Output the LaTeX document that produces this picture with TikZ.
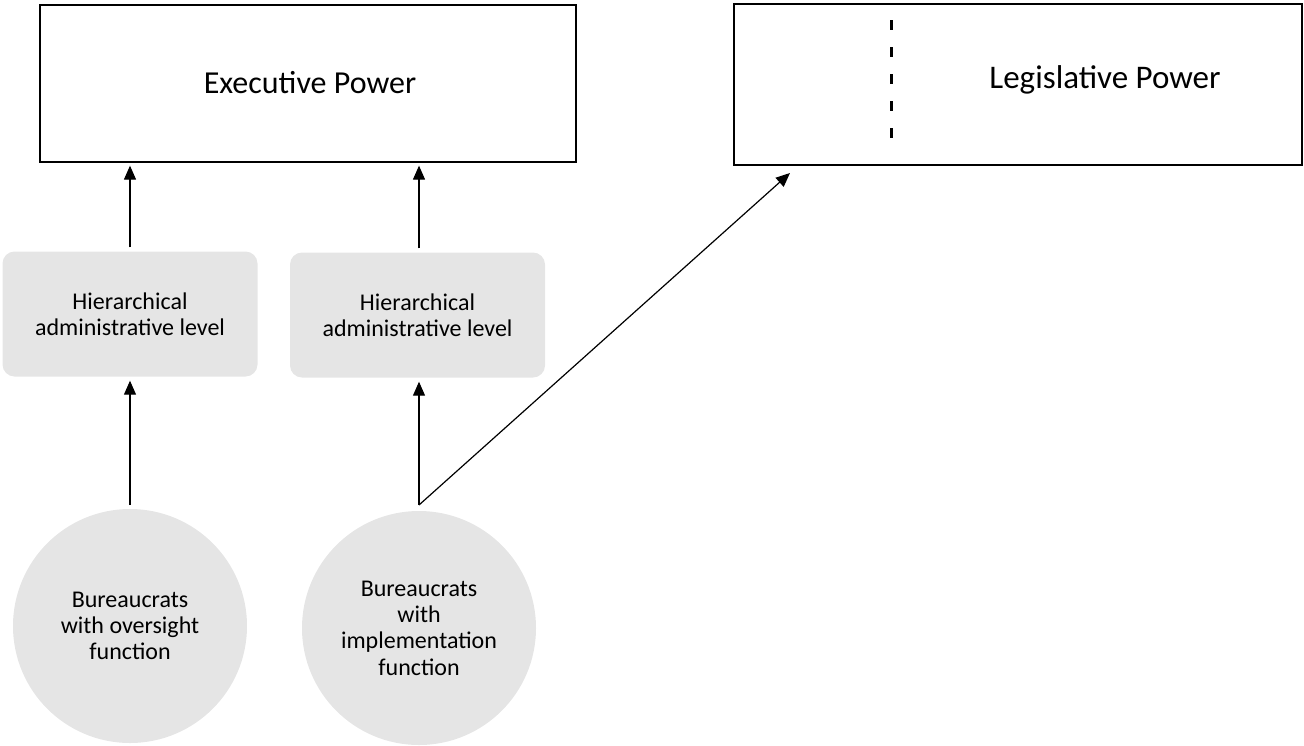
\documentclass[tikz,border=0pt]{standalone}
\usepackage{fontspec}
\setmainfont{Carlito}
\usetikzlibrary{arrows.meta}
\begin{document}
\begin{tikzpicture}[x=1pt,y=-1pt,
  bigbox/.style={draw=black, line width=1.3pt, minimum width=#1, inner sep=0pt},
  bigtext/.style={font=\fontsize{#1}{38}\selectfont, inner sep=0pt},
  graybox/.style={fill=black!10, rounded corners=12pt, minimum width=255pt, minimum height=125pt, inner sep=0pt, align=center, font=\fontsize{24}{26}\selectfont},
  graycirc/.style={circle, fill=black!10, minimum size=234pt, inner sep=0pt, align=center, font=\fontsize{24}{26.3}\selectfont},
  arr/.style={line width=1.2pt, -{Triangle[width=12pt,length=14pt]}}
]
\useasboundingbox (0,0) rectangle (1304,745);
\node[bigbox=536pt, minimum height=157pt] (exec) at (308,83.5) {};
\node[bigtext=32] (exect) at (310,83) {Executive Power};
\node[bigbox=568pt, minimum height=161pt, line width=2pt] (leg) at (1018,84.5) {};
\node[bigtext=33] (legt) at (1105,80) {Legislative Power};
\coordinate (dtop) at (891,20);
\coordinate (dbot) at (891,152);
\draw[line width=3pt, dash pattern=on 10pt off 17pt] (dtop) -- (dbot);
\node[graybox] (h1) at (130,314) {Hierarchical\\administrative level};
\node[graybox] (h2) at (417.5,315) {Hierarchical\\administrative level};
\node[graycirc] (c1) at (130,626) {Bureaucrats\\with oversight\\function};
\node[graycirc] (c2) at (419,628) {Bureaucrats\\with\\implementation\\function};
\coordinate (s1) at (130,505);
\coordinate (s2) at (419,505);
\coordinate (t3) at (790,173);
\draw[arr] ([yshift=4pt]h1.north) -- ([yshift=-3pt]h1.north |- exec.south);
\draw[arr] ([yshift=4pt]h2.north -| s2) -- ([yshift=-3pt]s2 |- exec.south);
\draw[arr] (s1) -- ([yshift=-4pt]s1 |- h1.south);
\draw[arr] (s2) -- ([yshift=-4pt]s2 |- h2.south);
\draw[arr] (s2) -- (t3);
\end{tikzpicture}
\end{document}
